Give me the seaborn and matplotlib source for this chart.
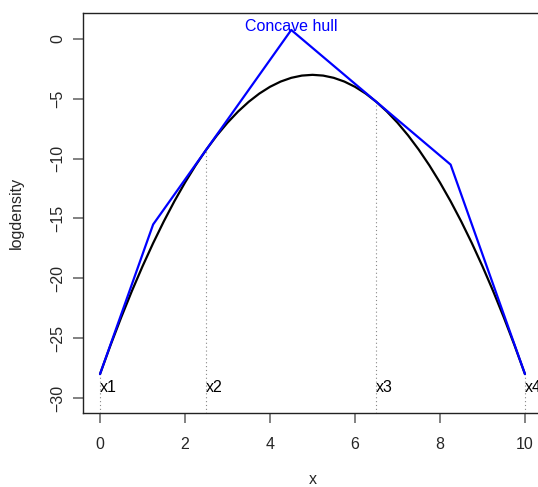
import matplotlib
matplotlib.use("Agg")
import matplotlib.pyplot as plt
import seaborn as sns
import pandas as pd

# Smooth log-density curve
curve_x = [0, 0.25, 0.5, 0.75, 1, 1.25, 1.5, 1.75, 2, 2.25, 2.5, 2.75, 3, 3.25, 3.5, 3.75,
           4, 4.25, 4.5, 4.75, 5, 5.25, 5.5, 5.75, 6, 6.25, 6.5, 6.75, 7, 7.25, 7.5, 7.75,
           8, 8.25, 8.5, 8.75, 9, 9.25, 9.5, 9.75, 10]
curve_y = [-28, -25.5625, -23.25, -21.0625, -19, -17.0625, -15.25, -13.5625, -12, -10.5625,
           -9.25, -8.0625, -7, -6.0625, -5.25, -4.5625, -4, -3.5625, -3.25, -3.0625, -3,
           -3.0625, -3.25, -3.5625, -4, -4.5625, -5.25, -6.0625, -7, -8.0625, -9.25, -10.5625,
           -12, -13.5625, -15.25, -17.0625, -19, -21.0625, -23.25, -25.5625, -28]

# Concave hull vertices
hull_x = [0, 1.25, 2.5, 4.5, 6.5, 8.25, 10]
hull_y = [-28, -15.5, -9.25, 0.75, -5.25, -10.5, -28]

# Abscissae
knot_x = [0, 2.5, 6.5, 10]
knot_y = [-28, -9.25, -5.25, -28]
knot_labels = ["x1", "x2", "x3", "x4"]

x_ticks = [0, 2, 4, 6, 8, 10]
y_ticks = [0, -5, -10, -15, -20, -25, -30]

sns.set_theme(style="white")
plt.rcParams['font.family'] = ['Liberation Sans', 'DejaVu Sans']

fig = plt.figure(figsize=(5.38, 4.87), dpi=100)
ax = fig.add_axes([0.1543, 0.152, 0.8531, 0.8214])

ymin, ymax = -31.25, 2.17
curve_df = pd.DataFrame({"x": curve_x, "y": curve_y})
hull_df = pd.DataFrame({"x": hull_x, "y": hull_y})

# dotted verticals
for kx, ky in zip(knot_x, knot_y):
    ax.plot([kx, kx], [ymin - 1, ky], color="#888888", lw=0.8, ls=(0, (1, 2.5)), zorder=1)

sns.lineplot(data=curve_df, x="x", y="y", sort=False, estimator=None, color="black",
             lw=1.6, ax=ax, zorder=3)
sns.lineplot(data=hull_df, x="x", y="y", sort=False, estimator=None, color="#0000ff",
             lw=1.6, ax=ax, zorder=4)

for kx, lab in zip(knot_x, knot_labels):
    ax.text(kx, -29.1, lab, ha="left", va="center", fontsize=11.5, color="black",
            clip_on=False)

ax.text(4.5, 1.0, "Concave hull", ha="center", va="center", fontsize=11.5, color="#0000ff",
        zorder=2)

ax.set_xlim(-0.4, 10.4)
ax.set_ylim(ymin, ymax)
ax.set_xticks(x_ticks)
ax.set_yticks(y_ticks)
ax.set_xticklabels([str(t) for t in x_ticks], fontsize=11.5)
ax.set_yticklabels([("\u2212" + str(-t)) if t < 0 else str(t) for t in y_ticks],
                   fontsize=11.5, rotation=90, va="center")
ax.tick_params(axis="both", direction="out", length=7, width=1.3, color="#777777",
               pad=10, bottom=True, left=True)
ax.tick_params(axis="y", pad=6)
ax.set_xlabel("x", fontsize=11.5, labelpad=15)
ax.set_ylabel("logdensity", fontsize=11.5, labelpad=19)
for s in ax.spines.values():
    s.set_color("#222222")
    s.set_linewidth(1.0)
ax.grid(False)

fig.savefig("out.png", dpi=100)
